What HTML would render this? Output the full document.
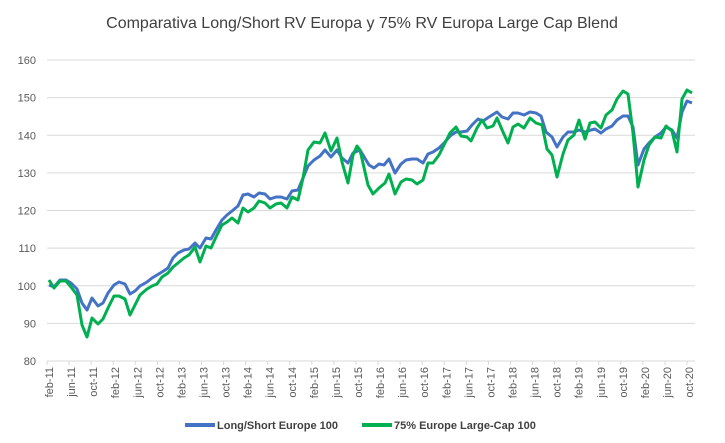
<!DOCTYPE html>
<html><head><meta charset="utf-8"><style>
body{margin:0;background:#fff;}
svg{display:block;font-family:"Liberation Sans",sans-serif;}
</style></head><body>
<svg width="725" height="443" viewBox="0 0 725 443">
<text x="362" y="28" text-anchor="middle" font-size="16" fill="#404040">Comparativa Long/Short RV Europa y 75% RV Europa Large Cap Blend</text>
<g stroke="#d9d9d9" stroke-width="1">
<line x1="47" y1="60" x2="695" y2="60"/>
<line x1="47" y1="97.6" x2="695" y2="97.6"/>
<line x1="47" y1="135.3" x2="695" y2="135.3"/>
<line x1="47" y1="172.9" x2="695" y2="172.9"/>
<line x1="47" y1="210.5" x2="695" y2="210.5"/>
<line x1="47" y1="248.1" x2="695" y2="248.1"/>
<line x1="47" y1="285.8" x2="695" y2="285.8"/>
<line x1="47" y1="323.4" x2="695" y2="323.4"/>
<line x1="47" y1="361" x2="695" y2="361"/>
</g>
<g font-size="11" fill="#595959" text-anchor="end">
<text x="36" y="64">160</text><text x="36" y="101.6">150</text><text x="36" y="139.3">140</text>
<text x="36" y="176.9">130</text><text x="36" y="214.5">120</text><text x="36" y="252.1">110</text>
<text x="36" y="289.8">100</text><text x="36" y="327.4">90</text><text x="36" y="365">80</text>
</g>
<g id="ticks" stroke="#d9d9d9" stroke-width="1"></g>
<g id="xl" font-size="11" fill="#595959" text-anchor="end"></g>
<polyline fill="none" stroke="#4472C4" stroke-width="3" stroke-linejoin="round" points="49,285 54,287 60,280 66,280 71,283 77,289 82,303 87,310 92,298 98,306 103,303 108,293 114,285 119,282 125,284 130,294 135,291 140,286 147,282 152,278 157,275 162,272 168,268 173,258 178,253 184,250 189,249 195,243 200,248 206,238 211,239 216,230 222,220 227,215 232,211 238,206 243,195 248,194 254,197 259,193 265,194 270,199 276,197 281,197 287,199 292,191 298,190 303,178 308,166 314,160 320,156 325,150 331,157 337,150 342,158 348,163 353,153 360,150 369,165 374,168 379,164 384,165 389,159 395,173 401,164 406,160 412,159 417,159 423,163 428,154 433,152 439,148 445,142 450,136 456,132 461,132 467,131 472,125 478,119 483,121 489,117 497,112 502,117 508,119 513,113 518,113 524,115 530,112 536,113 541,116 546,132 552,137 557,147 563,137 568,132 574,132 579,130 585,132 591,130 595,129 601,133 606,129 612,126 617,120 623,116 628,116 633,127 638,165 644,149 649,143 655,137 661,133 666,127 672,130 677,138 682,112 687,101 692,103"/>
<polyline fill="none" stroke="#00B050" stroke-width="3" stroke-linejoin="round" points="49,280 54,288 60,281 66,281 71,287 77,295 82,325 87,337 92,318 98,324 103,319 108,308 114,296 119,296 125,299 130,315 135,305 140,295 147,289 152,286 157,284 162,277 168,273 173,267 178,263 184,258 189,255 195,247 200,262 206,246 211,248 216,237 222,225 227,222 232,218 238,223 243,208 248,212 254,208 259,201 265,203 270,208 276,204 281,203 287,208 292,197 298,200 303,178 308,150 314,142 320,143 325,133 331,151 337,138 342,162 348,183 353,155 357,146 360,150 368,185 373,194 379,188 385,183 389,174 395,194 401,182 406,179 412,180 417,184 423,180 428,163 433,163 439,155 445,143 450,133 456,127 461,136 467,137 471,141 477,128 482,120 487,128 493,126 497,118 503,132 508,143 513,127 518,124 524,128 530,118 536,123 542,125 547,149 552,155 557,177 563,154 568,140 574,135 579,120 585,139 590,123 595,122 601,128 606,115 612,110 617,99 623,91 628,94 633,133 638,187 644,160 649,145 655,137 661,138 666,126 672,131 677,152 682,99 687,90 692,93"/>
<line x1="185" y1="425" x2="215" y2="425" stroke="#4472C4" stroke-width="4"/>
<text x="217" y="429" font-size="11" font-weight="bold" fill="#404040">Long/Short Europe 100</text>
<line x1="362" y1="425" x2="392" y2="425" stroke="#00B050" stroke-width="4"/>
<text x="394" y="429" font-size="11" font-weight="bold" fill="#404040">75% Europe Large-Cap 100</text>
<script>
var m=["feb","jun","oct"],xl=document.getElementById("xl"),tk=document.getElementById("ticks"),ns="http://www.w3.org/2000/svg";
for(var k=0;k<30;k++){var x=49+22.07*k;var yr=11+Math.floor(k/3);
var t=document.createElementNS(ns,"text");t.setAttribute("transform","translate("+(x+4)+",367) rotate(-90)");t.textContent=m[k%3]+"-"+yr;xl.appendChild(t);
var l=document.createElementNS(ns,"line");l.setAttribute("x1",x-2);l.setAttribute("x2",x-2);l.setAttribute("y1",361);l.setAttribute("y2",365);tk.appendChild(l);}
</script>
</svg>
</body></html>
